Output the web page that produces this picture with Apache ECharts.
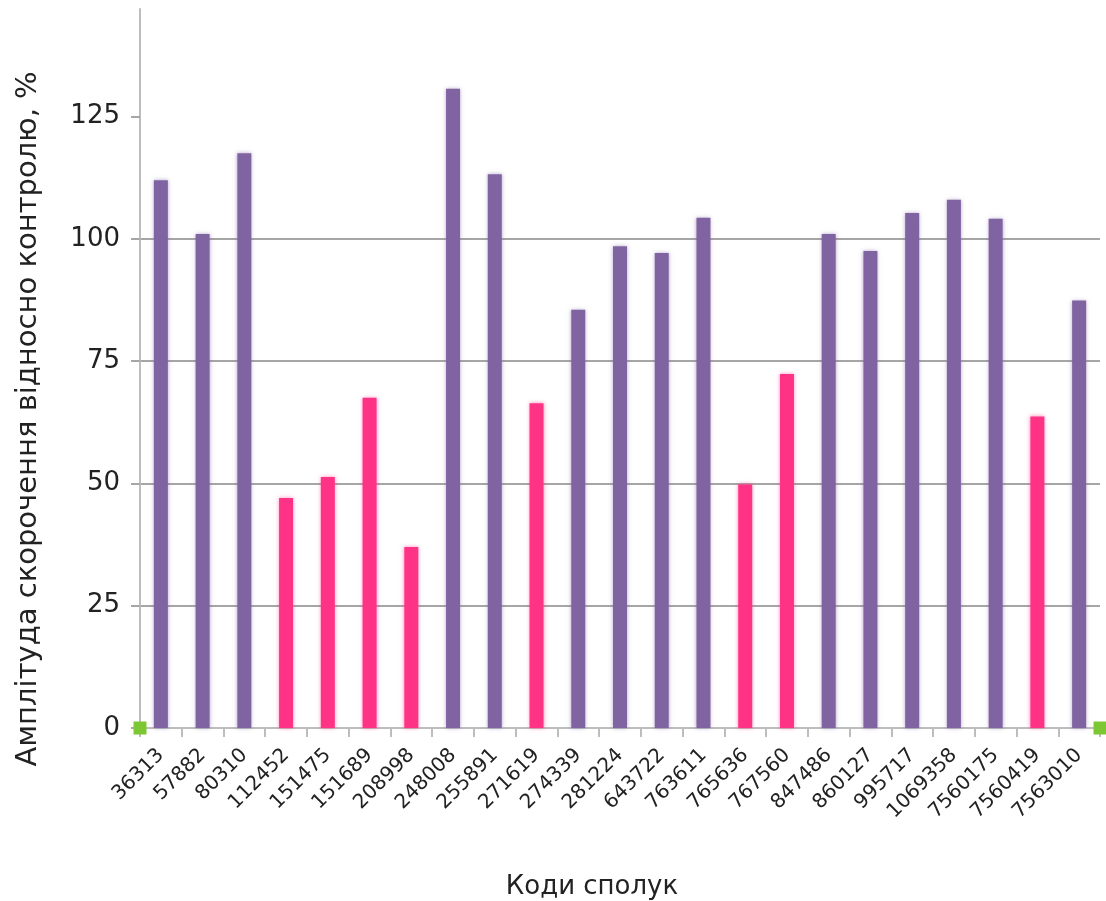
<!DOCTYPE html>
<html>
<head>
<meta charset="utf-8">
<script src="https://cdn.jsdelivr.net/npm/echarts@6/dist/echarts.min.js"></script>
<style>
  html, body { margin: 0; padding: 0; background: #ffffff; }
  #chart { width: 1106px; height: 901px; }
</style>
</head>
<body>
<div id="chart"></div>
<script>
// Compound codes along the x axis
const compounds = [
  '36313', '57882', '80310', '112452', '151475', '151689', '208998', '248008',
  '255891', '271619', '274339', '281224', '643722', '763611', '765636', '767560',
  '847486', '860127', '995717', '1069358', '7560175', '7560419', '7563010'
];

// Contraction amplitude relative to control, %
const amplitude = [
  112, 101, 117.5, 47, 51.3, 67.5, 37, 130.7,
  113.2, 66.4, 85.5, 98.5, 97.1, 104.3, 49.8, 72.4,
  101, 97.5, 105.3, 108, 104.1, 63.7, 87.4
];

// Compounds with a marked reduction of the amplitude (drawn in pink)
const reduced = [
  false, false, false, true, true, true, true, false,
  false, true, false, false, false, false, true, true,
  false, false, false, false, false, true, false
];

const yTicks = [0, 25, 50, 75, 100, 125];

const PURPLE = '#8064A2';
const PINK = '#FF3386';

const barData = amplitude.map((v, i) => ({
  value: v,
  itemStyle: {
    color: reduced[i] ? PINK : PURPLE,
    shadowColor: reduced[i] ? 'rgba(255,51,134,0.55)' : 'rgba(128,100,162,0.55)',
    shadowBlur: 4
  }
}));

const chart = echarts.init(document.getElementById('chart'), null, { renderer: 'canvas' });

chart.setOption({
  animation: false,
  backgroundColor: '#ffffff',
  grid: { left: 140, right: 6, top: 9, bottom: 173, containLabel: false },
  xAxis: {
    type: 'category',
    data: compounds,
    axisLine: { show: true, lineStyle: { color: '#bdbdbd', width: 2 } },
    axisTick: { show: true, length: 9, lineStyle: { color: '#bdbdbd', width: 2 } },
    axisLabel: {
      rotate: 45,
      interval: 0,
      margin: 24,
      fontFamily: 'DejaVu Sans',
      fontSize: 20,
      color: '#222222'
    },
    splitLine: { show: false }
  },
  yAxis: {
    type: 'value',
    min: 0,
    max: 147,
    interval: 25,
    axisLine: { show: true, lineStyle: { color: '#bdbdbd', width: 2 } },
    axisTick: { show: true, length: 9, customValues: yTicks, lineStyle: { color: '#a6a6a6', width: 2 } },
    axisLabel: {
      customValues: yTicks,
      margin: 20,
      fontFamily: 'DejaVu Sans',
      fontSize: 26,
      color: '#222222'
    },
    splitLine: { show: true, showMinLine: false, showMaxLine: false, lineStyle: { color: '#a6a6a6', width: 2 } }
  },
  series: [{
    type: 'bar',
    data: barData,
    barWidth: 14,
    markLine: {
      silent: true,
      symbol: ['rect', 'rect'],
      symbolSize: 13,
      label: { show: false },
      lineStyle: { color: '#7dc832', width: 0, type: 'solid' },
      data: [{ yAxis: 0 }]
    }
  }],
  graphic: [
    {
      type: 'text',
      x: 28,
      y: 419,
      rotation: Math.PI / 2,
      style: {
        text: 'Амплітуда скорочення відносно контролю, %',
        fontFamily: 'DejaVu Sans',
        fontSize: 29,
        fill: '#222222',
        textAlign: 'center',
        textVerticalAlign: 'middle'
      }
    },
    {
      type: 'text',
      x: 592,
      y: 887,
      style: {
        text: 'Коди сполук',
        fontFamily: 'DejaVu Sans',
        fontSize: 26,
        fill: '#222222',
        textAlign: 'center',
        textVerticalAlign: 'middle'
      }
    }
  ]
});
</script>
</body>
</html>
